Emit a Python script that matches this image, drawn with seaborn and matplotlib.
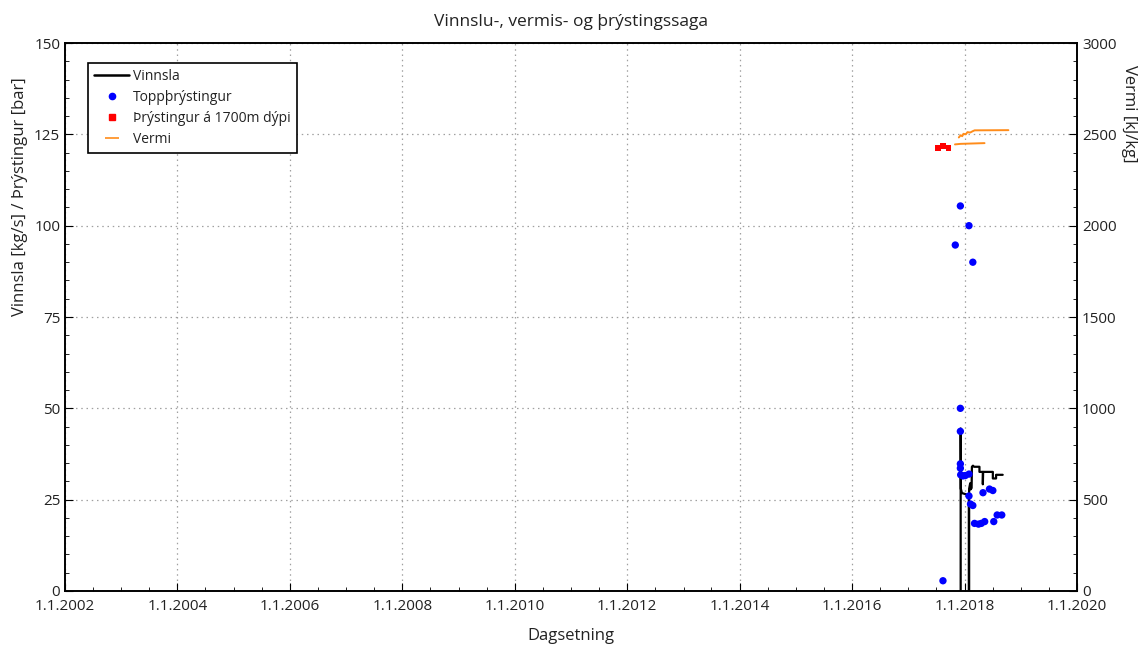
import matplotlib
matplotlib.use("Agg")
import matplotlib.pyplot as plt
import matplotlib.dates as mdates
from matplotlib.lines import Line2D
from matplotlib.ticker import MultipleLocator, FuncFormatter
import seaborn as sns
import pandas as pd
import numpy as np

# Vinnsla (kg/s), step-like production history
vinnsla_dates = ["2017-12-06", "2017-12-06", "2017-12-07", "2017-12-14", "2018-01-23",
                 "2018-01-28", "2018-01-28", "2018-01-30", "2018-01-30", "2018-02-06",
                 "2018-02-09", "2018-02-15", "2018-02-17", "2018-02-24", "2018-03-03",
                 "2018-04-07", "2018-04-07", "2018-04-29", "2018-04-29", "2018-05-01",
                 "2018-07-03", "2018-07-03", "2018-07-24", "2018-07-24", "2018-09-05"]
vinnsla_vals = [0.0, 44.5, 28.0, 26.8, 26.3,
                26.0, 0.0, 0.0, 28.0, 29.5,
                27.8, 28.2, 34.0, 34.3, 34.0,
                34.0, 32.6, 32.6, 29.2, 32.6,
                32.6, 30.8, 30.8, 31.8, 31.8]

# Toppþrýstingur (bar)
topp_dates = ["2017-08-13", "2017-11-01", "2017-12-04", "2017-12-04", "2017-12-04",
              "2017-12-04", "2017-12-04", "2017-12-06", "2017-12-20", "2018-01-05",
              "2018-01-29", "2018-01-29", "2018-01-29", "2018-02-08", "2018-02-23",
              "2018-02-23", "2018-03-06", "2018-04-01", "2018-04-19", "2018-04-30",
              "2018-05-11", "2018-06-11", "2018-07-03", "2018-07-09", "2018-07-31",
              "2018-08-30"]
topp_vals = [2.8, 94.7, 105.4, 50.0, 43.7,
             34.8, 33.6, 31.8, 31.5, 31.6,
             32.0, 100.0, 26.0, 23.8, 23.4,
             90.0, 18.5, 18.3, 18.5, 26.9,
             19.0, 27.9, 27.5, 19.0, 20.8,
             20.8]

# Þrýstingur á 1700m dýpi (bar)
djup_dates = ["2017-07-12", "2017-08-13", "2017-09-18"]
djup_vals = [121.3, 121.8, 121.3]

# Vermi (kJ/kg), two measurement runs
vermi_dates = ["2017-10-30", "2017-12-06", "2018-05-10",
               "2017-11-24", "2017-12-06", "2017-12-16", "2017-12-24", "2018-01-08",
               "2018-01-19", "2018-02-06", "2018-02-24", "2018-03-07", "2018-10-12"]
vermi_vals = [2445, 2448, 2452,
              2483, 2495, 2490, 2503, 2500,
              2512, 2510, 2518, 2522, 2523]
vermi_run = [1, 1, 1,
             2, 2, 2, 2, 2, 2, 2, 2, 2, 2]

df_v = pd.DataFrame({"date": pd.to_datetime(vinnsla_dates), "val": vinnsla_vals})
df_t = pd.DataFrame({"date": pd.to_datetime(topp_dates), "val": topp_vals})
df_d = pd.DataFrame({"date": pd.to_datetime(djup_dates), "val": djup_vals})
df_h = pd.DataFrame({"date": pd.to_datetime(vermi_dates), "val": vermi_vals, "run": vermi_run})

sns.set_style("ticks")
plt.rcParams["font.family"] = ["Open Sans", "DejaVu Sans"]
txt = "#222222"

fig = plt.figure(figsize=(11.43, 6.48), dpi=100)
ax = fig.add_axes([0.0569, 0.0880, 0.8854, 0.8456])
ax2 = ax.twinx()

sns.lineplot(data=df_v, x="date", y="val", sort=False, estimator=None,
             color="black", linewidth=1.6, ax=ax, legend=False)
sns.scatterplot(data=df_t, x="date", y="val", color="#0000ff", s=28,
                edgecolor="none", ax=ax, legend=False, zorder=4)
sns.scatterplot(data=df_d, x="date", y="val", color="#ff0000", marker="s", s=18,
                edgecolor="none", ax=ax, legend=False, zorder=4)
sns.lineplot(data=df_h, x="date", y="val", units="run", estimator=None, sort=False,
             color="#ff8c1a", linewidth=1.4, ax=ax2, legend=False)

ax.set_xlim(pd.Timestamp("2002-01-01"), pd.Timestamp("2020-01-01"))
ax.set_ylim(0, 150)
ax2.set_ylim(0, 3000)

ax.xaxis.set_major_locator(mdates.YearLocator(2))
ax.xaxis.set_minor_locator(mdates.MonthLocator(bymonth=[1, 7]))
ax.xaxis.set_major_formatter(FuncFormatter(lambda v, p: "1.1.%d" % mdates.num2date(v).year))
ax.yaxis.set_major_locator(MultipleLocator(25))
ax.yaxis.set_minor_locator(MultipleLocator(5))
ax2.yaxis.set_major_locator(MultipleLocator(500))
ax2.yaxis.set_minor_locator(MultipleLocator(100))

ax.grid(True, which="major", linestyle=(0, (1.2, 3)), color="#a0a0a0", linewidth=0.9)
ax.set_axisbelow(True)

for a in (ax, ax2):
    a.tick_params(which="both", direction="in", colors="black", labelcolor=txt, labelsize=11)
    a.tick_params(which="major", length=6)
    a.tick_params(which="minor", length=3)
    for s in a.spines.values():
        s.set_linewidth(1.2)
        s.set_color("black")
ax.tick_params(axis="x", pad=6)

ax.set_xlabel("Dagsetning", fontsize=12, color=txt, labelpad=10)
ax.set_ylabel("Vinnsla [kg/s] / Þrýstingur [bar]", fontsize=12, color=txt)
ax2.set_ylabel("Vermi [kJ/kg]", fontsize=12, color=txt, rotation=270, va="center")
ax2.yaxis.set_label_coords(1.051, 0.87)
ax.yaxis.set_label_coords(-0.037, 0.72)
ax.set_title("Vinnslu-, vermis- og þrýstingssaga", fontsize=12.5, color=txt, pad=12)

handles = [
    Line2D([], [], color="black", linewidth=1.8),
    Line2D([], [], color="#0000ff", marker="o", linestyle="none", markersize=4.5),
    Line2D([], [], color="#ff0000", marker="s", linestyle="none", markersize=4),
    Line2D([], [], color="#ff8c1a", marker="_", linestyle="none", markersize=10, markeredgewidth=1.2),
]
labels = ["Vinnsla", "Toppþrýstingur", "Þrýstingur á 1700m dýpi", "Vermi"]
leg = ax.legend(handles, labels, loc="upper left", bbox_to_anchor=(0.0227, 0.9635),
                borderaxespad=0, fontsize=10, frameon=True, fancybox=False,
                edgecolor="black", framealpha=1, handlelength=2.5, borderpad=0.45,
                labelspacing=0.42, handletextpad=0.3)
leg.get_frame().set_linewidth(1.2)
for t in leg.get_texts():
    t.set_color(txt)

fig.savefig("out.png", dpi=100)
